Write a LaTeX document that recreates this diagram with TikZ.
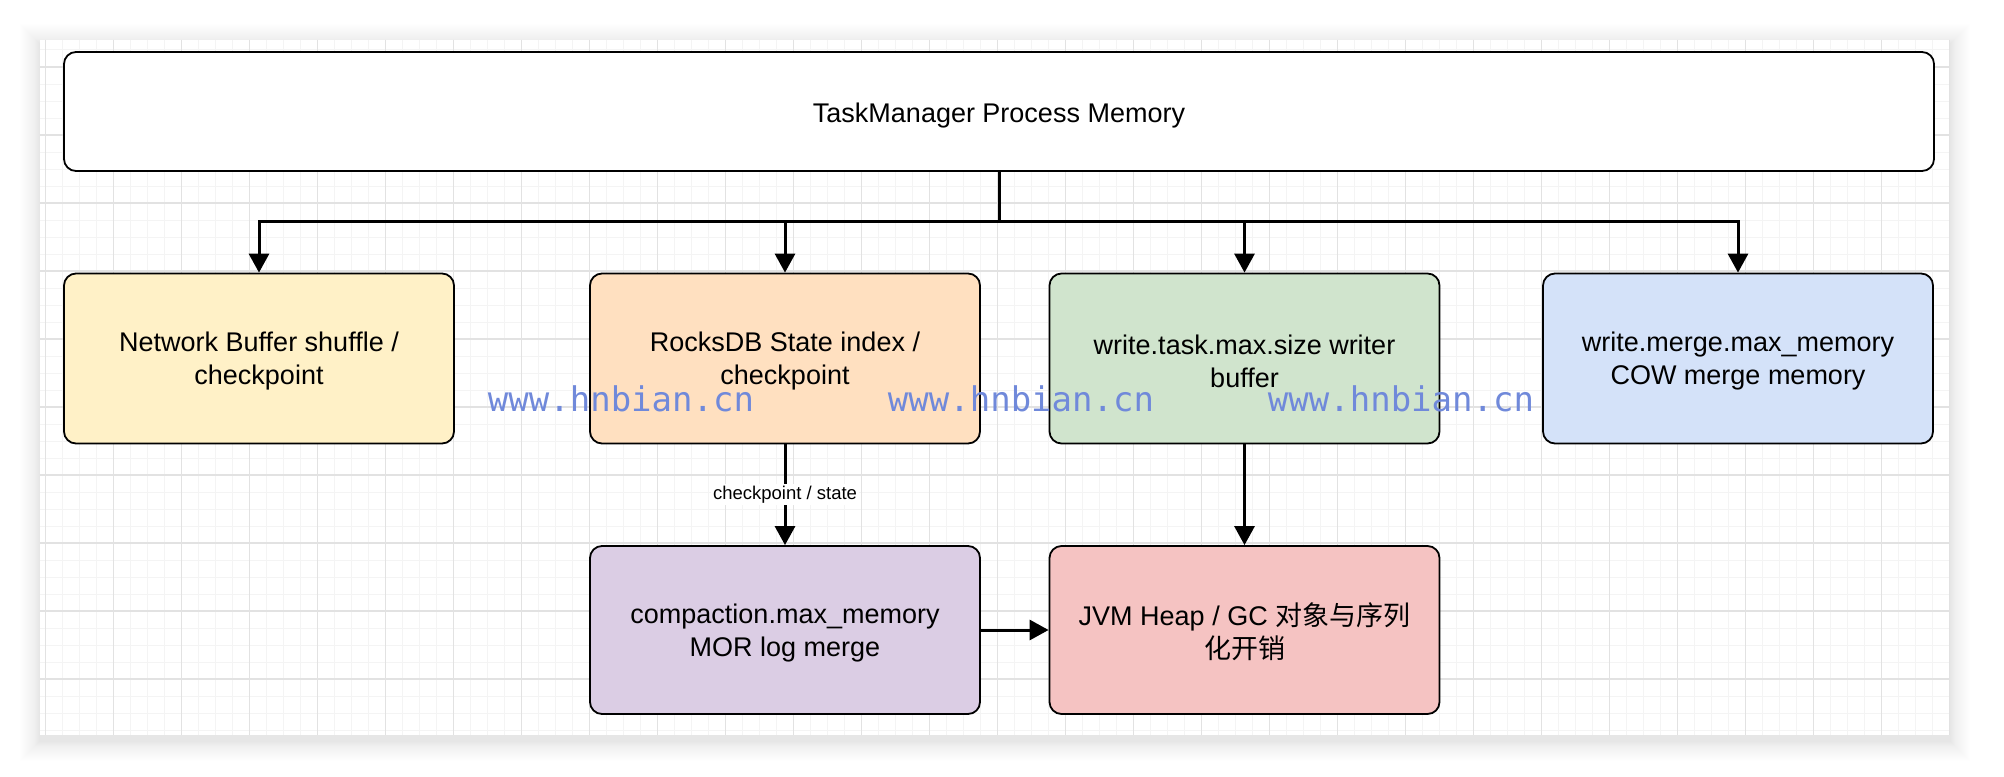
\documentclass[tikz,border=0pt]{standalone}
\usepackage{fontspec}
\setmainfont{Liberation Sans}
\newfontfamily\cjk{Noto Sans CJK SC}
\newfontfamily\wmfont{DejaVu Sans Mono}
\usetikzlibrary{arrows.meta}
\definecolor{cyellow}{HTML}{FFF1C7}
\definecolor{corange}{HTML}{FFE0C0}
\definecolor{cgreen}{HTML}{D0E4CD}
\definecolor{cblue}{HTML}{D4E2F9}
\definecolor{cpurple}{HTML}{DBCDE4}
\definecolor{cpink}{HTML}{F5C3C2}
\definecolor{cwm}{RGB}{112,137,218}
\definecolor{gminor}{HTML}{F4F4F4}
\definecolor{gmajor}{HTML}{E2E2E2}
\tikzset{
  box/.style={draw=black, line width=1.8pt, rounded corners=12pt, minimum width=390pt, minimum height=170pt, inner sep=0pt},
  lbl/.style={align=center, inner sep=0pt, font=\fontsize{27}{33}\selectfont},
  conn/.style={line width=3pt, draw=black, line join=miter},
  arr/.style={conn, -{Triangle[length=19pt,width=20pt]}},
  minorgrid/.style={draw=gminor, line width=1pt},
  majorgrid/.style={draw=gmajor, line width=1.2pt},
  wm/.style={text=cwm, font=\wmfont\fontsize{34}{34}\selectfont, anchor=base, inner sep=0pt},
}
\begin{document}
\begin{tikzpicture}[x=1pt,y=-1pt]
\useasboundingbox (0,0) rectangle (2004,776);
\fill[white] (0,0) rectangle (2004,776);
% shadow
\foreach \d in {1,...,40}{
  \pgfmathsetmacro\op{0.0085*exp(-\d/14)}
  \fill[black, opacity=\op] ({40-\d},{44-\d}) rectangle ({1950+\d},{741+\d});
}
% canvas
\fill[white] (40,40) rectangle (1950,735);
\foreach \i in {0,...,112}{ \draw[minorgrid] ({45.4+17*\i},40) -- ({45.4+17*\i},735); }
\foreach \j in {0,...,40}{ \draw[minorgrid] (40,{50+17*\j}) -- (1950,{50+17*\j}); }
\foreach \i in {0,...,28}{ \draw[majorgrid] ({45.4+68*\i},40) -- ({45.4+68*\i},735); }
\foreach \j in {0,...,9}{ \draw[majorgrid] (40,{67+68*\j}) -- (1950,{67+68*\j}); }

% boxes
\node[box, fill=white, minimum width=1870pt, minimum height=119pt] (top) at (999,111.5) {};
\node[box, fill=cyellow] (net) at (259,358.5) {};
\node[box, fill=corange] (rocks) at (785,358.5) {};
\node[box, fill=cgreen] (task) at (1244.5,358.5) {};
\node[box, fill=cblue] (merge) at (1738,358.5) {};
\node[box, fill=cpurple, minimum height=168pt] (comp) at (785,630) {};
\node[box, fill=cpink, minimum height=168pt] (jvm) at (1244.5,630) {};

% box texts
\node[lbl] (topT) at ([yshift=-4pt]top.center) {TaskManager Process Memory};
\node[lbl] (netT) at ([yshift=-3pt]net.center) {Network Buffer shuffle /\\checkpoint};
\node[lbl] (rocksT) at ([yshift=-3pt]rocks.center) {RocksDB State index /\\checkpoint};
\node[lbl] (taskT) at ([yshift=-3pt]task.center) {write.task.max.size writer\\buffer};
\node[lbl] (mergeT) at ([yshift=-3pt]merge.center) {write.merge.max\_memory\\COW merge memory};
\node[lbl] (compT) at ([yshift=-3pt]comp.center) {compaction.max\_memory\\MOR log merge};
\node[lbl] (jvmT) at ([yshift=-2pt]jvm.center) {JVM Heap / GC {\cjk 对象与序列}\\{\cjk 化开销}};

% connectors
\coordinate (bus) at (999,221);
\draw[conn] (top.south) -- (bus);
\draw[arr] (bus) -| (net.north);
\draw[arr] (bus) -| (rocks.north);
\draw[arr] (bus) -| (task.north);
\draw[arr] (bus) -| (merge.north);
\draw[arr] (rocks.south) -- node[fill=white, inner sep=2pt, font=\fontsize{18.5}{22}\selectfont, pos=0.5] {checkpoint / state} (comp.north);
\draw[arr] (task.south) -- (jvm.north);
\draw[arr] (comp.east) -- (jvm.west);

% watermark
\node[wm] (wm1) at (621,411) {www.hnbian.cn};
\node[wm] (wm2) at (1021,411) {www.hnbian.cn};
\node[wm] (wm3) at (1401,411) {www.hnbian.cn};
\end{tikzpicture}
\end{document}
